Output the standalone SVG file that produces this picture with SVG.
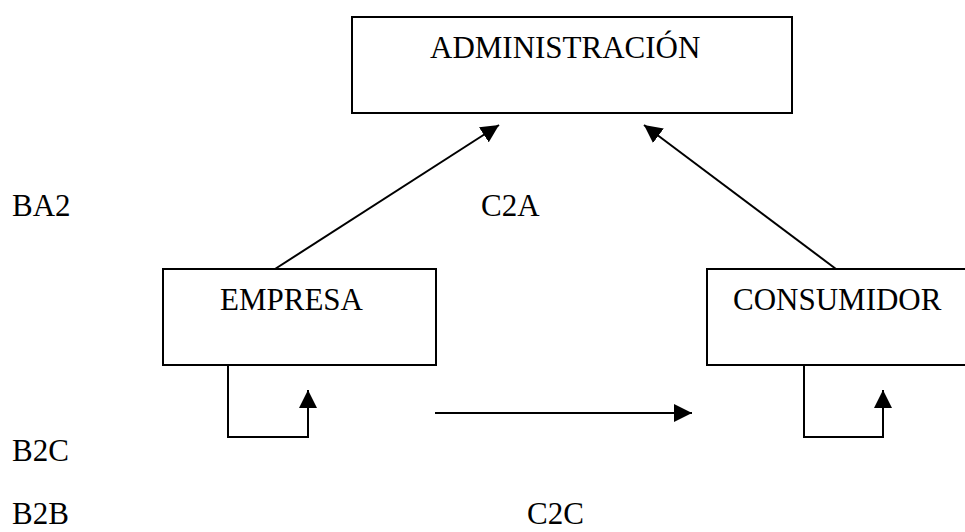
<svg xmlns="http://www.w3.org/2000/svg" width="965" height="532" viewBox="0 0 965 532">
<style>
.box{fill:#fff;stroke:#000;stroke-width:2}
.ln{fill:none;stroke:#000;stroke-width:2}
text{font-family:"Liberation Serif","Times New Roman",serif;font-size:31px;fill:#000}
</style>
<defs>
<marker id="ah" markerUnits="userSpaceOnUse" markerWidth="18" markerHeight="18" viewBox="0 0 16 16" refX="16" refY="8" orient="auto">
<path d="M0,0 L16,8 L0,16 Z" fill="#000"/>
</marker>
</defs>
<rect width="965" height="532" fill="#fff"/>
<g id="administracion">
<rect class="box" x="352" y="17" width="440" height="96"/>
<text x="430" y="58">ADMINISTRACIÓN</text>
</g>
<g id="empresa">
<rect class="box" x="163" y="269" width="273" height="96"/>
<text x="220" y="310">EMPRESA</text>
</g>
<g id="consumidor">
<rect class="box" x="707" y="269" width="270" height="96"/>
<text x="733" y="310">CONSUMIDOR</text>
</g>
<g id="labels">
<text x="12" y="216">BA2</text>
<text x="481" y="216">C2A</text>
<text x="12" y="461">B2C</text>
<text x="12" y="524">B2B</text>
<text x="527" y="524">C2C</text>
</g>
<g id="connectors">
<line class="ln" x1="275" y1="269" x2="499" y2="125" marker-end="url(#ah)"/>
<line class="ln" x1="836" y1="269" x2="644" y2="125" marker-end="url(#ah)"/>
<polyline class="ln" points="228,365 228,437 308,437 308,390" marker-end="url(#ah)"/>
<polyline class="ln" points="804,365 804,437 883,437 883,390" marker-end="url(#ah)"/>
<line class="ln" x1="435" y1="413" x2="692" y2="413" marker-end="url(#ah)"/>
</g>
</svg>
